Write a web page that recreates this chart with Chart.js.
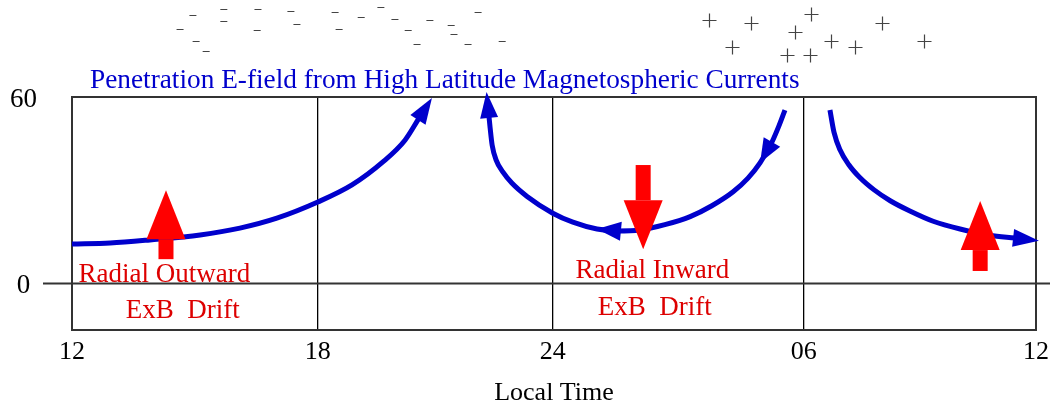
<!DOCTYPE html>
<html>
<head>
<meta charset="utf-8">
<title>Penetration E-field</title>
<script src="https://cdn.jsdelivr.net/npm/chart.js@4.4.1/dist/chart.umd.min.js"></script>
<style>
    body { margin: 0; background: #fff; }
    canvas { display: block; }
</style>
</head>
<body>
<canvas id="grafica" width="1050" height="406"></canvas>
<script>
// Eje X: hora local (12 -> 36 = 12 del dia siguiente), marcas tal como estan en el dibujo
const horasTicks = [12, 18.12, 23.97, 30.22, 36];
const etiquetasTicks = ['12', '18', '24', '06', '12'];
const valoresTicksY = [0, 60];

// Curva de la tarde (sube hacia el norte)
const tardeX = [12.00, 12.95, 13.94, 15.19, 16.18, 17.10, 18.12, 18.97, 19.74, 20.29, 20.64];
const tardeY = [12.7, 13.0, 14.0, 15.6, 17.8, 21.0, 26.2, 31.7, 39.1, 46.1, 53.2];

// Curva de medianoche (baja desde la madrugada y vuelve a subir)
const nocheX = [29.75, 29.60, 29.43, 29.13, 28.83, 28.46, 27.93, 27.39, 26.76, 26.14, 25.57, 25.07, 24.47, 23.97, 23.33, 22.95, 22.73, 22.56, 22.46, 22.41, 22.38];
const nocheY = [55.8, 50.7, 45.6, 38.8, 33.9, 29.5, 25.0, 21.5, 18.9, 17.2, 16.9, 17.5, 19.7, 22.6, 28.0, 32.3, 35.8, 39.7, 44.5, 50.0, 53.9];

// Curva de la manana
const mananaX = [30.87, 30.97, 31.12, 31.34, 31.62, 31.97, 32.37, 32.86, 33.44, 34.11, 34.85, 35.48];
const mananaY = [55.8, 48.7, 43.0, 38.2, 34.0, 30.1, 26.6, 23.3, 20.0, 17.5, 15.5, 14.6];

// Cargas negativas y positivas arriba del grafico
const menosX = [15.01, 14.69, 15.09, 15.34, 15.78, 15.78, 16.63, 16.61, 17.45, 17.60, 18.55, 18.65, 19.20, 19.69, 20.04, 20.37, 20.59, 20.91, 21.44, 21.51, 21.86, 22.11, 22.71];
const menosY = [86.4, 81.9, 78.0, 74.8, 88.2, 84.5, 88.2, 81.5, 87.7, 83.5, 87.4, 81.9, 85.7, 88.9, 85.2, 81.6, 77.1, 84.8, 83.2, 80.3, 77.1, 87.4, 78.0];
const masX = [27.86, 28.90, 30.40, 30.00, 28.43, 30.90, 31.49, 29.80, 30.37, 32.17, 33.21];
const masY = [84.8, 83.8, 86.7, 81.0, 76.1, 78.0, 76.1, 73.5, 73.5, 83.8, 78.0];

// Flechas rojas de deriva ExB (x, desde, hasta)
const derivaX = [14.34, 26.22, 34.61];
const derivaDesde = [7.8, 38.1, 4.0];
const derivaHasta = [30.0, 11.0, 26.5];

// Textos rojos
const textosRojos = ['Radial Outward', 'ExB  Drift', 'Radial Inward', 'ExB  Drift'];
const textosX = [14.30, 14.76, 26.45, 26.51];
const textosY = [0.5, -11.2, 1.7, -10.2];

const AZUL = '#0000cc';
const ROJO = '#ff0000';
const FUENTE = "'Liberation Serif', 'Times New Roman', serif";

function aPuntos(xs, ys) {
    return xs.map((x, i) => ({ x: x, y: ys[i] }));
}

function triangulo(ctx, tx, ty, dx, dy, largo, ancho) {
    const bx = tx - dx * largo;
    const by = ty - dy * largo;
    const px = -dy * ancho / 2;
    const py = dx * ancho / 2;
    ctx.beginPath();
    ctx.moveTo(tx, ty);
    ctx.lineTo(bx + px, by + py);
    ctx.lineTo(bx - px, by - py);
    ctx.closePath();
    ctx.fill();
}

const pluginMarco = {
    id: 'marco',
    beforeDatasetsDraw(chart) {
        const ctx = chart.ctx;
        const a = chart.chartArea;
        const sx = chart.scales.x;
        const sy = chart.scales.y;
        const y0 = sy.getPixelForValue(0);
        ctx.save();
        ctx.strokeStyle = '#333';
        ctx.lineWidth = 2;
        ctx.strokeRect(a.left, a.top, a.right - a.left, a.bottom - a.top);
        // linea del cero, sale del marco
        ctx.beginPath();
        ctx.moveTo(43, y0);
        ctx.lineTo(chart.width, y0);
        ctx.stroke();

        // cargas - y + (fuera del area del grafico)
        ctx.strokeStyle = '#444';
        ctx.lineWidth = 1.2;
        ctx.beginPath();
        menosX.forEach((x, i) => {
            const px = sx.getPixelForValue(x);
            const py = Math.round(sy.getPixelForValue(menosY[i])) + 0.5;
            ctx.moveTo(px - 3.5, py);
            ctx.lineTo(px + 3.5, py);
        });
        masX.forEach((x, i) => {
            const px = Math.round(sx.getPixelForValue(x)) + 0.5;
            const py = Math.round(sy.getPixelForValue(masY[i])) + 0.5;
            ctx.moveTo(px - 7, py);
            ctx.lineTo(px + 7, py);
            ctx.moveTo(px, py - 7);
            ctx.lineTo(px, py + 7);
        });
        ctx.stroke();
        ctx.restore();
    }
};

const pluginFlechas = {
    id: 'flechas',
    afterDatasetsDraw(chart) {
        const ctx = chart.ctx;
        ctx.save();

        // Paso 1: puntas azules sobre las curvas
        chart.data.datasets.forEach((ds, i) => {
            if (!ds.flechas && !ds.flechaFinal) return;
            const pts = chart.getDatasetMeta(i).data;
            ctx.fillStyle = ds.borderColor;
            (ds.flechas || []).forEach(k => {
                const dx = pts[k].x - pts[k - 1].x;
                const dy = pts[k].y - pts[k - 1].y;
                const d = Math.hypot(dx, dy);
                triangulo(ctx, pts[k].x, pts[k].y, dx / d, dy / d, 24, 19);
            });
            if (ds.flechaFinal) {
                const p = pts[pts.length - 1];
                const q = pts[pts.length - 2];
                const dx = p.x - q.x;
                const dy = p.y - q.y;
                const d = Math.hypot(dx, dy);
                triangulo(ctx, p.x + dx / d * 24, p.y + dy / d * 24, dx / d, dy / d, 26, 18);
            }
        });

        // Paso 2: flechas rojas de deriva
        const sx = chart.scales.x;
        const sy = chart.scales.y;
        ctx.fillStyle = ROJO;
        derivaX.forEach((x, i) => {
            const px = sx.getPixelForValue(x);
            const y1 = sy.getPixelForValue(derivaDesde[i]);
            const y2 = sy.getPixelForValue(derivaHasta[i]);
            const s = y2 > y1 ? 1 : -1;
            const base = y2 - s * 49;
            ctx.fillRect(px - 7.5, Math.min(y1, base), 15, Math.abs(base - y1));
            triangulo(ctx, px, y2, 0, s, 49, 39);
        });
        ctx.restore();
    },
    afterDraw(chart) {
        const ctx = chart.ctx;
        const sx = chart.scales.x;
        const sy = chart.scales.y;
        ctx.save();
        ctx.font = '27.3px ' + FUENTE;
        ctx.textBaseline = 'alphabetic';
        ctx.fillStyle = AZUL;
        ctx.textAlign = 'left';
        ctx.fillText('Penetration E-field from High Latitude Magnetospheric Currents', 90, 88);

        ctx.font = '27px ' + FUENTE;
        ctx.fillStyle = '#dd0000';
        ctx.textAlign = 'center';
        textosRojos.forEach((t, i) => {
            ctx.fillText(t, sx.getPixelForValue(textosX[i]), sy.getPixelForValue(textosY[i]));
        });
        ctx.restore();
    }
};

const Vista = {
    dibujarGrafica: function () {
        const canvas = document.getElementById('grafica');
        const curva = {
            showLine: true,
            borderColor: AZUL,
            borderWidth: 5,
            pointRadius: 0,
            cubicInterpolationMode: 'monotone',
            clip: false
        };

        new Chart(canvas, {
            type: 'scatter',
            data: {
                datasets: [
                    Object.assign({ label: 'tarde', data: aPuntos(tardeX, tardeY), flechaFinal: true }, curva),
                    Object.assign({ label: 'noche', data: aPuntos(nocheX, nocheY), flechas: [3, 11], flechaFinal: true }, curva),
                    Object.assign({ label: 'manana', data: aPuntos(mananaX, mananaY), flechaFinal: true }, curva)
                ]
            },
            options: {
                responsive: false,
                animation: false,
                devicePixelRatio: 1,
                layout: { padding: { top: 97, right: 14, left: 0, bottom: 0 } },
                plugins: {
                    legend: { display: false },
                    tooltip: { enabled: false }
                },
                scales: {
                    x: {
                        type: 'linear',
                        min: 12,
                        max: 36,
                        afterBuildTicks: s => { s.ticks = horasTicks.map(v => ({ value: v })); },
                        afterFit: s => {
                            s.height = 76;
                            s.paddingLeft = 0;
                            s.paddingRight = 0;
                        },
                        grid: { color: '#000', lineWidth: 1.3, drawTicks: false },
                        border: { color: '#333', width: 2 },
                        ticks: {
                            autoSkip: false,
                            maxRotation: 0,
                            padding: 7,
                            color: '#000',
                            font: { family: FUENTE, size: 26 },
                            callback: v => etiquetasTicks[horasTicks.indexOf(v)]
                        },
                        title: {
                            display: true,
                            text: 'Local Time',
                            color: '#000',
                            padding: 0,
                            font: { family: FUENTE, size: 26, lineHeight: 1 }
                        }
                    },
                    y: {
                        type: 'linear',
                        min: -15,
                        max: 60,
                        afterBuildTicks: s => { s.ticks = valoresTicksY.map(v => ({ value: v })); },
                        afterFit: s => { s.width = 72; },
                        grid: { display: false },
                        border: { color: '#333', width: 2 },
                        ticks: {
                            padding: 27,
                            labelOffset: 3,
                            crossAlign: 'center',
                            color: '#000',
                            font: { family: FUENTE, size: 27 }
                        }
                    }
                }
            },
            plugins: [pluginMarco, pluginFlechas]
        });
    }
};

document.addEventListener('DOMContentLoaded', function () {
    Vista.dibujarGrafica();
});
</script>
</body>
</html>
